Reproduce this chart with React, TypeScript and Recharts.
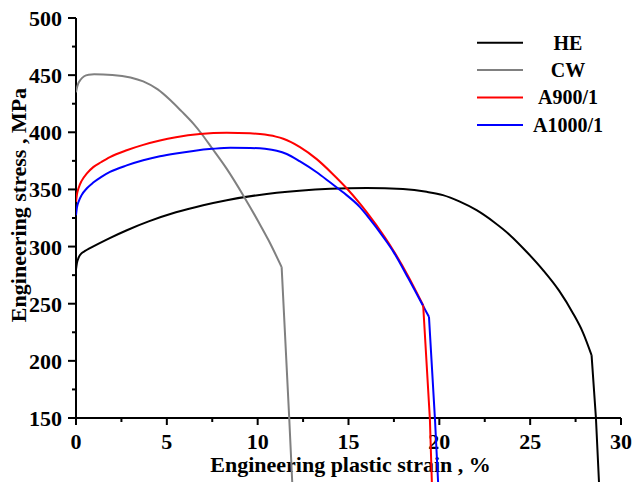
import React from 'react';
import { LineChart, Line, XAxis, YAxis, Legend } from 'recharts';

// ---------- data ----------
const seriesNames = ['HE', 'CW', 'A900/1', 'A1000/1'];
const seriesColors = ['#000000', '#808080', '#ff0000', '#0000ff'];

// hardening / necking part of each curve (smooth)
const heStrain = [0, 0.05, 0.15, 0.3, 0.5, 0.77, 1.8, 2.8, 4, 5.5, 7, 8.3, 10, 12.3, 14, 16, 18, 19.3, 20.2, 21.1, 22.05, 23, 23.89, 24.8, 25.72, 26.6, 27.37, 27.9, 28.38];
const heStress = [280, 285.5, 290.5, 294, 296.2, 298.6, 307, 314.3, 322, 330, 336.2, 340.6, 345, 348.8, 350.5, 351.2, 350.3, 347.9, 345, 339.5, 331.8, 321.5, 310, 295.5, 279.2, 261.2, 241.3, 225, 205];
// fracture part (steep drop)
const heDropStrain = [28.38, 28.62, 28.8];
const heDropStress = [205, 150, 90];

const cwStrain = [0, 0.05, 0.12, 0.25, 0.45, 0.7, 1, 2, 3, 3.7, 4.5, 5.2, 5.8, 6.46, 6.92, 7.47, 8.3, 9.2, 10.05, 10.6, 11.32];
const cwStress = [435, 439, 442.5, 446, 449, 450.3, 450.7, 450.2, 448, 444.5, 437.5, 428, 418.5, 407.5, 398.5, 386.5, 368, 345, 321.5, 305.5, 282];
const cwDropStrain = [11.32, 11.74, 11.92];
const cwDropStress = [282, 149, 88];

const a900Strain = [0, 0.05, 0.15, 0.31, 0.6, 0.95, 1.4, 1.87, 2.79, 3.7, 4.62, 5.5, 6.82, 8.29, 9.58, 10.13, 11, 11.41, 12.33, 13.25, 14.1, 14.9, 15.63, 16, 17, 17.46, 18.3, 19.11];
const a900Stress = [339, 345.5, 351.5, 357.5, 364, 369.5, 374, 378.3, 384.3, 389, 392.8, 395.6, 398.4, 399.5, 399.1, 398.4, 396.2, 394.3, 387, 376.5, 364, 351, 337.5, 330.1, 308.1, 296.8, 273.7, 248.6];
const a900DropStrain = [19.11, 19.48, 19.6];
const a900DropStress = [248.6, 149, 88];

const a1000Strain = [0, 0.05, 0.15, 0.31, 0.6, 0.95, 1.4, 1.87, 2.79, 3.7, 4.62, 5.5, 6.46, 7.5, 8.5, 9.6, 10.4, 11.05, 11.6, 12.33, 13.25, 14, 14.7, 15.63, 16, 17, 17.46, 18.3, 19.21, 19.43];
const a1000Stress = [327.5, 334, 339.5, 345, 351, 356, 361, 365.3, 371, 375.5, 379, 381.5, 383.7, 385.5, 386.5, 386.3, 385.5, 383.8, 381, 374.5, 365, 356, 347.5, 334.5, 327.5, 306.5, 295.8, 272, 245, 238.5];
const a1000DropStrain = [19.43, 19.76, 19.95];
const a1000DropStress = [238.5, 149, 88];

const xTicks = [0, 2.5, 5, 7.5, 10, 12.5, 15, 17.5, 20, 22.5, 25, 27.5, 30];
const yTicks = [150, 175, 200, 225, 250, 275, 300, 325, 350, 375, 400, 425, 450, 475, 500];
const xDomain = [0, 30];
const yDomain = [150, 500];
const xMajor = 5;
const yMajor = 50;

const xLabel = 'Engineering plastic strain , %';
const yLabel = 'Engineering stress , MPa';

const toPoints = (xs: number[], ys: number[]) => xs.map((x, i) => ({ strain: x, stress: ys[i] }));
const seriesData = [
  toPoints(heStrain, heStress),
  toPoints(cwStrain, cwStress),
  toPoints(a900Strain, a900Stress),
  toPoints(a1000Strain, a1000Stress),
];
const dropData = [
  toPoints(heDropStrain, heDropStress),
  toPoints(cwDropStrain, cwDropStress),
  toPoints(a900DropStrain, a900DropStress),
  toPoints(a1000DropStrain, a1000DropStress),
];

// ---------- layout ----------
const W = 636;
const H = 482;
const PLOT_TOP = 18;
const PLOT_RIGHT = 15;
const Y_AXIS_W = 76;
const X_AXIS_H = 64;
const FONT = '"Liberation Serif", "Times New Roman", Times, serif';
// overlay lines extend below the x axis, down to the window bottom
const PX_PER_UNIT = (H - PLOT_TOP - X_AXIS_H) / (yDomain[1] - yDomain[0]);
const overlayLow = yDomain[1] - (H - PLOT_TOP) / PX_PER_UNIT;

const XTick = (props: any) => {
  const { x, y, payload } = props;
  const v = payload.value;
  const major = Math.abs(v % xMajor) < 1e-6;
  return (
    <g>
      <line x1={x} x2={x} y1={y} y2={y + (major ? 7 : 4)} stroke="#000" strokeWidth={2} />
      {major && (
        <text x={x} y={y + 31} textAnchor="middle" fontFamily={FONT} fontWeight="bold" fontSize={22} fill="#000">
          {v}
        </text>
      )}
    </g>
  );
};

const YTick = (props: any) => {
  const { x, y, payload } = props;
  const v = payload.value;
  const major = Math.abs(v % yMajor) < 1e-6;
  return (
    <g>
      <line x1={x - (major ? 8 : 4)} x2={x} y1={y} y2={y} stroke="#000" strokeWidth={2} />
      {major && (
        <text x={x - 14} y={y + 8} textAnchor="end" fontFamily={FONT} fontWeight="bold" fontSize={22} fill="#000">
          {v}
        </text>
      )}
    </g>
  );
};

const XLabelContent = (props: any) => {
  const vb = props.viewBox || { x: Y_AXIS_W, y: H - X_AXIS_H, width: W - Y_AXIS_W - PLOT_RIGHT, height: X_AXIS_H };
  return (
    <text x={vb.x + vb.width / 2 + 2} y={vb.y + 54} textAnchor="middle" fontFamily={FONT} fontWeight="bold" fontSize={22} fill="#000">
      {xLabel}
    </text>
  );
};

const YLabelContent = () => {
  const cx = 19;
  const cy = 205;
  return (
    <text x={cx} y={cy} dy="0.34em" transform={`rotate(-90, ${cx}, ${cy})`} textAnchor="middle" fontFamily={FONT} fontWeight="bold" fontSize={22} fill="#000">
      {yLabel}
    </text>
  );
};

const LegendBox = (props: any) => {
  const payload = [...(props.payload || [])]
    .filter((e: any) => seriesNames.indexOf(e.value) >= 0 && e.type !== 'none')
    .sort((a: any, b: any) => seriesNames.indexOf(a.value) - seriesNames.indexOf(b.value));
  return (
    <svg width={160} height={120} style={{ display: 'block', overflow: 'visible' }}>
      {payload.map((e: any, i: number) => {
        const y = 14.7 + i * 27.4;
        return (
          <g key={i}>
            <line x1={7} x2={53} y1={y} y2={y} stroke={e.color} strokeWidth={2} />
            <text x={98} y={y + 6.8} textAnchor="middle" fontFamily={FONT} fontWeight="bold" fontSize={20} fill="#000">
              {e.value}
            </text>
          </g>
        );
      })}
    </svg>
  );
};

const axisLine = { stroke: '#000', strokeWidth: 2 };

export default function App() {
  return (
    <div style={{ position: 'absolute', left: 0, top: 0, width: W, height: H, overflow: 'hidden', background: '#fff' }}>
      <div style={{ position: 'absolute', left: 0, top: 0 }}>
        <LineChart width={W} height={H} margin={{ top: PLOT_TOP, right: PLOT_RIGHT, left: 0, bottom: 0 }} data={[]}>
          <XAxis
            xAxisId="b"
            type="number"
            dataKey="strain"
            domain={xDomain}
            ticks={xTicks}
            interval={0}
            height={X_AXIS_H}
            tickSize={0}
            tickMargin={0}
            tickLine={false}
            axisLine={axisLine}
            tick={<XTick />}
            allowDataOverflow
            label={<XLabelContent />}
          />
          <XAxis xAxisId="t" orientation="top" type="number" domain={xDomain} height={0} tick={false} tickLine={false} axisLine={axisLine} allowDataOverflow />
          <YAxis
            yAxisId="l"
            type="number"
            domain={yDomain}
            ticks={yTicks}
            interval={0}
            width={Y_AXIS_W}
            tickSize={0}
            tickMargin={0}
            tickLine={false}
            axisLine={axisLine}
            tick={<YTick />}
            allowDataOverflow
            label={<YLabelContent />}
          />
          <YAxis yAxisId="r" orientation="right" type="number" domain={yDomain} width={0} tick={false} tickLine={false} axisLine={axisLine} allowDataOverflow />
        </LineChart>
      </div>
      <div style={{ position: 'absolute', left: 0, top: 0, pointerEvents: 'none' }}>
        <LineChart width={W} height={H} margin={{ top: PLOT_TOP, right: PLOT_RIGHT, left: Y_AXIS_W, bottom: 0 }}>
          <XAxis type="number" dataKey="strain" domain={xDomain} hide allowDataOverflow />
          <YAxis type="number" dataKey="stress" domain={[overlayLow, yDomain[1]]} hide allowDataOverflow />
          {seriesData.map((d, i) => (
            <Line
              key={seriesNames[i]}
              data={d}
              dataKey="stress"
              name={seriesNames[i]}
              type="monotone"
              stroke={seriesColors[i]}
              strokeWidth={2}
              dot={false}
              activeDot={false}
              isAnimationActive={false}
            />
          ))}
          {dropData.map((d, i) => (
            <Line
              key={seriesNames[i] + '-drop'}
              data={d}
              dataKey="stress"
              name={seriesNames[i] + ' fracture'}
              legendType="none"
              type="linear"
              stroke={seriesColors[i]}
              strokeWidth={2}
              dot={false}
              activeDot={false}
              isAnimationActive={false}
            />
          ))}
          <Legend
            layout="vertical"
            align="center"
            verticalAlign="middle"
            content={<LegendBox />}
            wrapperStyle={{ position: 'absolute', left: 470, top: 28, width: 160, height: 120 }}
          />
        </LineChart>
      </div>
    </div>
  );
}
